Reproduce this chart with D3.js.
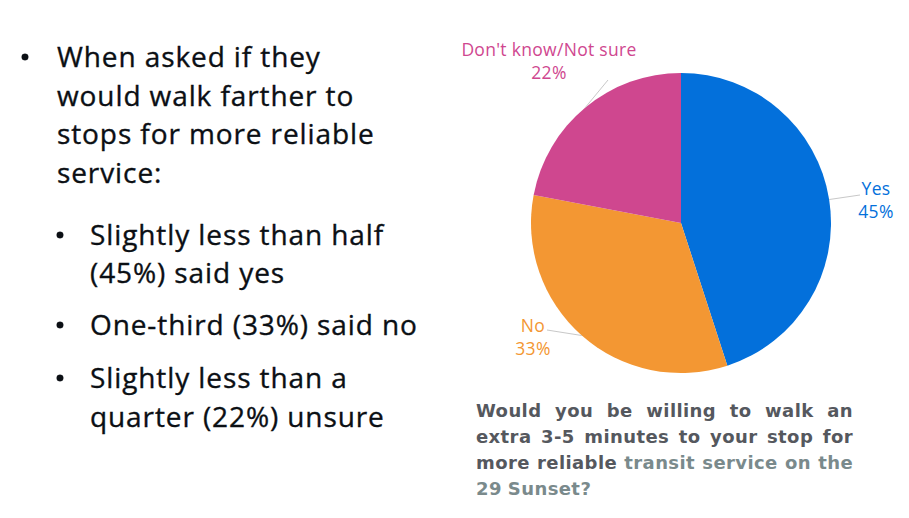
<!DOCTYPE html>
<html>
<head>
<meta charset="utf-8">
<script src="https://cdn.jsdelivr.net/npm/d3@7"></script>
<style>
  html, body { margin: 0; padding: 0; background: #fff; }
  svg { display: block; }
</style>
</head>
<body>
<svg id="chart"></svg>
<script>
// Survey answers
const categories = ['Yes', 'No', "Don't know/Not sure"];
const shares = [45, 33, 22];
const colors = ['#0370DB', '#F39733', '#CF478F'];

// Bullet text on the left
const mainBullet = ['When asked if they', 'would walk farther to', 'stops for more reliable', 'service:'];
const subBullets = [
  ['Slightly less than half', '(45%) said yes'],
  ['One-third (33%) said no'],
  ['Slightly less than a', 'quarter (22%) unsure']
];

// Caption under the pie: [text, tone]
const captionLines = [
  [['Would you be willing to walk an', 'dark']],
  [['extra 3-5 minutes to your stop for', 'dark']],
  [['more reliable', 'dark'], ['transit service on the', 'light']],
  [['29 Sunset?', 'light']]
];

const width = 909, height = 518;
const svg = d3.select('#chart').attr('width', width).attr('height', height);

// ---- left text block ----
const textG = svg.append('g')
  .attr('font-family', "'Open Sans', sans-serif")
  .attr('letter-spacing', 0.9)
  .attr('fill', '#0b0f14')
  .attr('stroke', '#0b0f14')
  .attr('stroke-width', 0.35);
const bodySize = 28;

mainBullet.forEach((line, i) => {
  textG.append('text').attr('x', 57).attr('y', 67 + i * 38.5)
    .attr('font-size', bodySize).text(line);
});
textG.append('circle').attr('cx', 25).attr('cy', 57).attr('r', 3.3);

const subBaselines = [[245, 283], [335], [388, 427]];
subBullets.forEach((lines, i) => {
  textG.append('circle').attr('cx', 60).attr('cy', subBaselines[i][0] - 10).attr('r', 3.3);
  lines.forEach((line, j) => {
    textG.append('text').attr('x', 90).attr('y', subBaselines[i][j])
      .attr('font-size', bodySize).text(line);
  });
});

// ---- pie ----
const cx = 681, cy = 223, radius = 150;
const pieG = svg.append('g').attr('transform', `translate(${cx},${cy})`);

const pie = d3.pie().sort(null).value(d => d.value);
const arcs = pie(categories.map((c, i) => ({ name: c, value: shares[i], color: colors[i] })));
const arc = d3.arc().innerRadius(0).outerRadius(radius);
const edge = d3.arc().innerRadius(radius).outerRadius(radius);

pieG.selectAll('path.slice')
  .data(arcs)
  .join('path')
  .attr('class', 'slice')
  .attr('d', arc)
  .attr('fill', d => d.data.color);

// label placement (relative to pie centre), per slice
const labelPos = [
  { x: 195, y: -28, anchor: 'middle', lead: [179, -28] },
  { x: -148, y: 109, anchor: 'middle', lead: [-134, 107] },
  { x: -132, y: -167, anchor: 'middle', lead: [-73, -143] }
];

pieG.selectAll('line.lead')
  .data(arcs)
  .join('line')
  .attr('class', 'lead')
  .attr('x1', d => edge.centroid(d)[0])
  .attr('y1', d => edge.centroid(d)[1])
  .attr('x2', (d, i) => labelPos[i].lead[0])
  .attr('y2', (d, i) => labelPos[i].lead[1])
  .attr('stroke', '#c8c8c8')
  .attr('stroke-width', 1);

const labels = pieG.selectAll('text.lbl')
  .data(arcs)
  .join('text')
  .attr('class', 'lbl')
  .attr('font-family', "'Open Sans', sans-serif")
  .attr('font-size', 17.5)
  .attr('letter-spacing', 0.3)
  .attr('text-anchor', (d, i) => labelPos[i].anchor)
  .attr('fill', d => d.data.color);
labels.append('tspan')
  .attr('x', (d, i) => labelPos[i].x)
  .attr('y', (d, i) => labelPos[i].y)
  .text(d => d.data.name);
labels.append('tspan')
  .attr('x', (d, i) => labelPos[i].x)
  .attr('y', (d, i) => labelPos[i].y + 22.5)
  .text(d => d3.format('.0f')(d.data.value) + '%');

// ---- caption (justified) ----
const capX0 = 476, capX1 = 853, capY = 417, capStep = 26;
const tone = { dark: '#55585E', light: '#7A8A8C' };
const capG = svg.append('g')
  .attr('font-family', "'DejaVu Sans', Verdana, sans-serif")
  .attr('font-weight', 'bold')
  .attr('letter-spacing', 0.4)
  .attr('font-size', 18);

captionLines.forEach((segments, li) => {
  const words = [];
  segments.forEach(([txt, t]) => txt.split(' ').forEach(w => words.push({ w, t })));
  const nodes = words.map(o => capG.append('text')
    .attr('y', capY + li * capStep)
    .attr('fill', tone[o.t])
    .text(o.w));
  const widths = nodes.map(n => n.node().getComputedTextLength());
  const total = d3.sum(widths);
  const last = li === captionLines.length - 1;
  const gap = last ? 6 : (capX1 - capX0 - total) / (words.length - 1);
  let x = capX0;
  nodes.forEach((n, i) => { n.attr('x', x); x += widths[i] + gap; });
});
</script>
</body>
</html>
